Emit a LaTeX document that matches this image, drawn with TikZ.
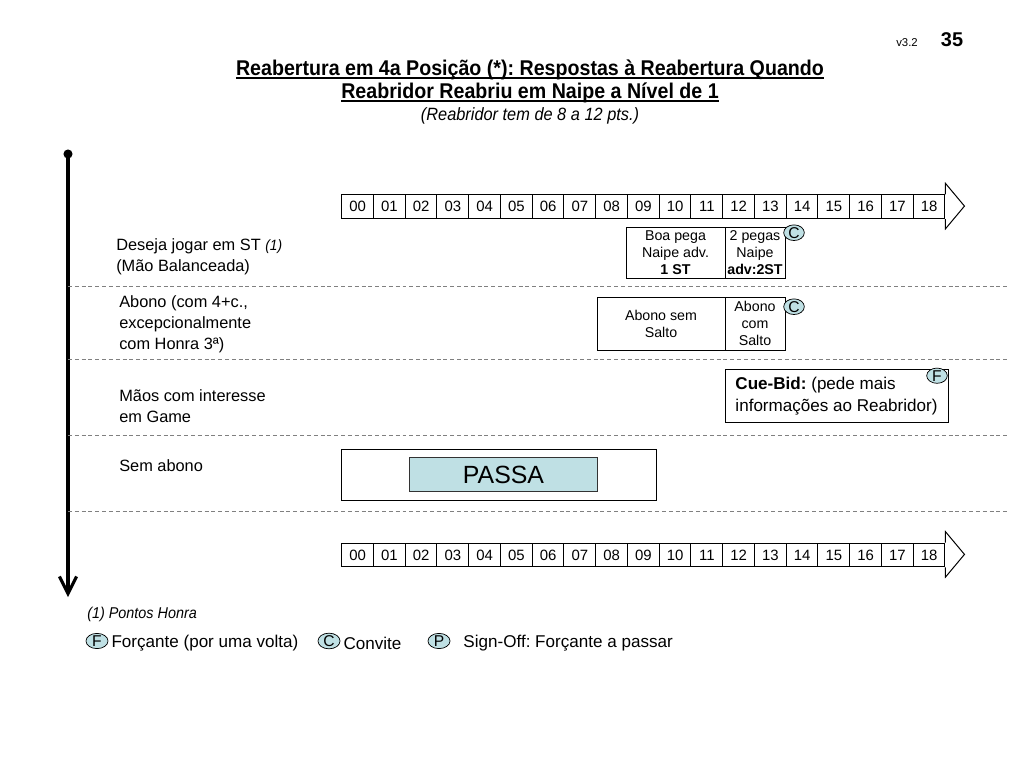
\documentclass[tikz,border=0pt]{standalone}
\usepackage{fontspec}
\setmainfont{Liberation Sans}
\newfontfamily\narrowfont[FakeStretch=0.92]{Liberation Sans}
\usepackage{xcolor}
\definecolor{paleteal}{RGB}{191,224,228}
\definecolor{dashgray}{RGB}{128,128,128}
\usetikzlibrary{
    shapes.geometric,
    arrows.meta,
    positioning
}
\frenchspacing
\newcommand{\titleul}[1]{\setbox0\hbox{#1}\rlap{\rule[-1.8pt]{\wd0}{0.8pt}}\box0}

\begin{document}
\begin{tikzpicture}[
    x=0.703125pt, y=-0.703125pt,
    every node/.style={inner sep=0pt},
    cell/.style={draw=black, line width=0.7pt, fill=white, minimum width=22.32pt, minimum height=16.6pt, font=\fontsize{10.5}{12}\selectfont},
    scalehead/.style={draw=black, line width=0.7pt, fill=white},
    rowlabel/.style={anchor=west, align=left, font=\fontsize{11.5}{14.6}\selectfont},
    bidbox/.style={draw=black, line width=0.7pt, outer sep=0pt, align=center, font=\fontsize{10}{12}\selectfont},
    badge/.style={ellipse, draw=black, line width=0.5pt, fill=paleteal, minimum width=14.5pt, minimum height=10pt, font=\fontsize{11}{11}\selectfont},
    divider/.style={draw=dashgray, line width=0.6pt, dash pattern=on 2.8pt off 2pt},
    legend/.style={anchor=west, yshift=-1.5pt, font=\fontsize{12}{14}\selectfont}
]
\useasboundingbox (0,0) rectangle (1024,768);

% ==================== HEADER ====================
\node[anchor=base, font=\fontsize{8}{9.6}\selectfont] (version) at (907,47) {v3.2};
\node[anchor=base, font=\bfseries\fontsize{14}{16}\selectfont] (pagenum) at (952,47) {35};
\node[anchor=base, font=\narrowfont\bfseries\fontsize{15}{17}\selectfont] (title1) at (530,76) {\titleul{Reabertura em 4a Posição (*): Respostas à Reabertura Quando}};
\node[anchor=base, font=\narrowfont\bfseries\fontsize{15}{17}\selectfont] (title2) at (530,99) {\titleul{Reabridor Reabriu em Naipe a Nível de 1}};
\node[anchor=base, font=\narrowfont\itshape\fontsize{12.5}{14}\selectfont] (subtitle) at (530,121) {(Reabridor tem de 8 a 12 pts.)};

% ==================== AXIS ====================
\node[circle, fill=black, minimum size=6.4pt] (axisdot) at (68,154) {};
\coordinate (axisend) at (68,597);
\draw[line width=2.2pt, -{Straight Barb[length=12pt, width=12pt]}] (axisdot.center) -- (axisend);

% ==================== SCALES ====================
\foreach \n [count=\k from 0] in {00,01,02,03,04,05,06,07,08,09,10,11,12,13,14,15,16,17,18} {
    \node[cell] (top-\n) at ({357.6+31.75*\k},206.7) {\n};
    \node[cell] (bot-\n) at ({357.6+31.75*\k},555) {\n};
}
\draw[scalehead] (top-18.north east) -- ++(0,-11) -- ++(19,22.7) -- ++(-19,22.7) -- (top-18.south east);
\draw[scalehead] (bot-18.north east) -- ++(0,-11) -- ++(19,22.7) -- ++(-19,22.7) -- (bot-18.south east);

% ==================== ROWS ====================
\foreach \y in {286.5,359.5,435,511.5}
    \draw[divider] (68,\y) -- (1010,\y);

\node[rowlabel] (balanced) at (116,256.5) {Deseja jogar em ST {\narrowfont\itshape\fontsize{10.5}{10}\selectfont(1)}\\(Mão Balanceada)};
\node[rowlabel] (abono) at (119,324.5) {Abono (com 4+c.,\\excepcionalmente\\com Honra 3ª)};
\node[rowlabel] (game) at (119,406) {Mãos com interesse\\em Game};
\node[rowlabel] (noabono) at (119,466) {Sem abono};

% ==================== BIDS ====================
\node[bidbox, minimum width=69.6pt, minimum height=35.9pt] (goodstop) at (675.5,252.8) {Boa pega\\Naipe adv.\\\textbf{1 ST}};
\node[bidbox, minimum width=42.2pt, minimum height=35.9pt, right=0pt of goodstop] (twostops) {2 pegas\\Naipe\\\textbf{adv:2ST}};
\node[badge] (invite1) at (794,232.7) {C};

\node[bidbox, minimum width=90pt, minimum height=37.3pt] (nojump) at (661,323.7) {Abono sem\\Salto};
\node[bidbox, minimum width=42.2pt, minimum height=37.3pt, right=0pt of nojump] (jump) {Abono\\com\\Salto};
\node[badge] (invite2) at (794,306.7) {C};

\node[bidbox, align=left, font=\fontsize{12}{15.5}\selectfont, minimum width=156.8pt, minimum height=36.6pt] (cuebid) at (836.5,396) {\textbf{Cue-Bid:} (pede mais\\informações ao Reabridor)};
\node[badge] (forcing) at (937,375.7) {F};

\node[bidbox, minimum width=221.5pt, minimum height=35.9pt] (passrow) at (499.2,474.7) {};
\node[draw=black!80, line width=0.7pt, fill=paleteal, minimum width=132.5pt, minimum height=24.2pt, font=\fontsize{17.5}{20}\selectfont] (pass) at (503.5,474.5) {PASSA};

% ==================== LEGEND ====================
\node[anchor=west, font=\narrowfont\itshape\fontsize{11}{13}\selectfont] (note) at (87,614) {(1) Pontos Honra};
\node[badge, minimum width=15.5pt, minimum height=10.5pt] (fkey) at (97,641) {F};
\node[legend, right=2pt of fkey] (fdesc) {Forçante (por uma volta)};
\node[badge, minimum width=15.5pt, minimum height=10.5pt] (ckey) at (329,641) {C};
\node[legend, right=2pt of ckey] (cdesc) {Convite};
\node[badge, minimum width=15.5pt, minimum height=10.5pt] (pkey) at (439,641) {P};
\node[legend, right=9pt of pkey] (pdesc) {Sign-Off: Forçante a passar};

\end{tikzpicture}
\end{document}
